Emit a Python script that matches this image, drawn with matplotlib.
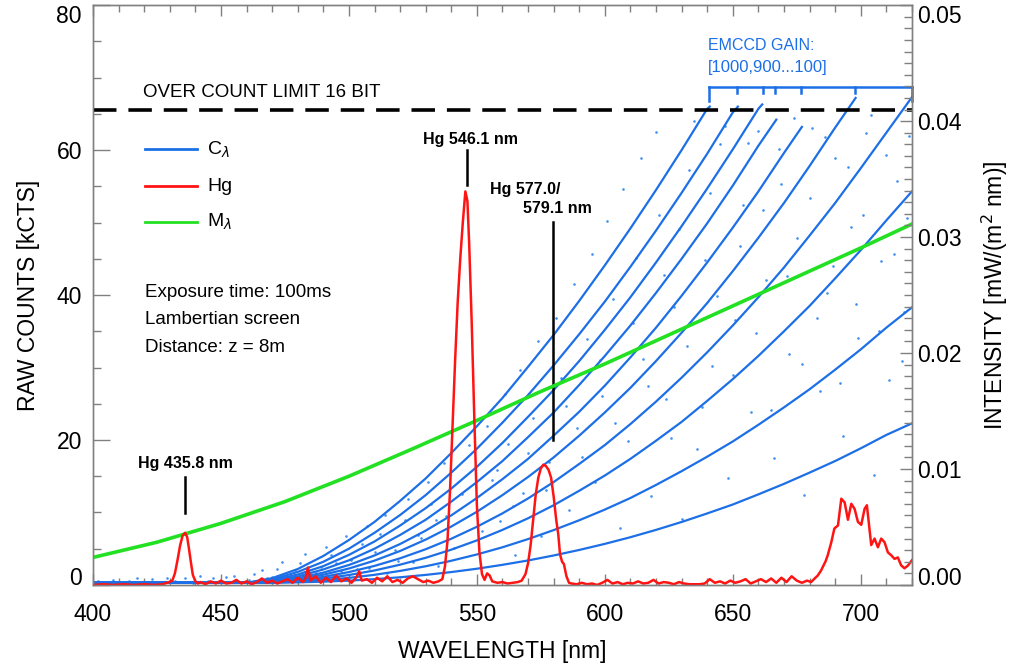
import matplotlib
matplotlib.use('Agg')
import matplotlib.pyplot as plt
from matplotlib.ticker import MultipleLocator, FormatStrFormatter

plt.rcParams['font.family'] = ['Liberation Sans', 'DejaVu Sans']
plt.rcParams['mathtext.fontset'] = 'dejavusans'

# ---------------- data ----------------
# EMCCD calibration curves C_lambda (raw counts, kCTS), gains 1000 ... 100
blue_wl = [400, 420, 440, 460, 470, 480, 490, 500, 510, 520, 530, 540, 550, 560, 570,
           580, 590, 600, 610, 620, 630, 640, 650, 660, 670, 680, 690, 700, 710, 720]
gains = [1000, 900, 800, 700, 600, 500, 400, 300, 200, 100]
c_1000 = [0.3, 0.3, 0.3, 0.3, 0.94, 2.2, 4.0, 6.2, 8.7, 11.6, 14.7, 18.2, 21.9, 25.8,
          30.1, 34.5, 39.2, 44.1, 49.2, 54.5, 60.0, 65.7]
c_900 = [0.3, 0.3, 0.3, 0.3, 0.76, 1.8, 3.2, 5.0, 7.2, 9.65, 12.4, 15.5, 18.8, 22.4,
         26.2, 30.3, 34.6, 39.1, 43.9, 48.9, 54.1, 59.5, 65.2]
c_800 = [0.3, 0.3, 0.3, 0.3, 0.64, 1.44, 2.6, 4.15, 6.0, 8.2, 10.6, 13.3, 16.3, 19.6,
         23.2, 26.9, 30.9, 35.2, 39.7, 44.5, 49.5, 54.7, 60.1, 65.7]
c_700 = [0.3, 0.3, 0.3, 0.3, 0.54, 1.17, 2.14, 3.4, 5.0, 6.9, 9.0, 11.5, 14.2, 17.1,
         20.4, 23.8, 27.6, 31.6, 35.8, 40.3, 45.0, 49.9, 55.1, 60.6]
c_600 = [0.3, 0.3, 0.3, 0.3, 0.47, 0.95, 1.7, 2.76, 4.07, 5.65, 7.5, 9.6, 12.0, 14.6,
         17.4, 20.6, 23.9, 27.5, 31.4, 35.5, 39.9, 44.5, 49.3, 54.3, 59.6]
c_500 = [0.3, 0.3, 0.3, 0.3, 0.43, 0.8, 1.41, 2.27, 3.36, 4.69, 6.26, 8.06, 10.1, 12.4,
         14.9, 17.6, 20.6, 23.8, 27.2, 30.9, 34.8, 38.9, 43.3, 47.9, 52.7, 57.8, 63.1]
c_400 = [0.3, 0.3, 0.3, 0.3, 0.39, 0.66, 1.12, 1.78, 2.63, 3.68, 4.93, 6.38, 8.03, 9.88,
         11.94, 14.2, 16.7, 19.3, 22.2, 25.3, 28.6, 32.1, 35.8, 39.7, 43.8, 48.2, 52.7,
         57.5, 62.4]
c_300 = [0.3, 0.3, 0.3, 0.3, 0.36, 0.55, 0.88, 1.37, 2.0, 2.8, 3.75, 4.87, 6.15, 7.6,
         9.2, 11.0, 13.0, 15.1, 17.4, 19.9, 22.5, 25.4, 28.4, 31.6, 35.0, 38.5, 42.3,
         46.2, 50.3]
c_200 = [0.3, 0.3, 0.3, 0.3, 0.33, 0.45, 0.67, 0.98, 1.4, 1.94, 2.58, 3.34, 4.21, 5.2,
         6.33, 7.57, 8.93, 10.4, 12.0, 13.8, 15.7, 17.7, 19.8, 22.1, 24.5, 27.0, 29.7,
         32.5, 35.5]
c_100 = [0.3, 0.3, 0.3, 0.3, 0.31, 0.36, 0.46, 0.6, 0.8, 1.06, 1.39, 1.78, 2.24, 2.78,
         3.38, 4.07, 4.83, 5.67, 6.59, 7.6, 8.69, 9.87, 11.1, 12.5, 13.95, 15.5, 17.1,
         18.85, 20.7]
c_end_wl = [641, 652, 661.5, 667, 677, 698, 720, 720, 720, 720]
c_end_val = [66.0, 66.0, 66.3, 64.2, 63.2, 67.2, 67.3, 54.3, 38.3, 22.3]

# scattered measurement points (kCTS)
dots_wl = [402, 405, 408, 411, 414, 417, 420, 423, 426, 429, 432, 436, 439, 442,
           445, 452, 458, 463, 468, 472, 477, 481, 486, 489, 493, 497, 501, 505,
           508, 512, 515, 518, 522, 525, 528, 532, 535, 538, 541, 556, 559, 562,
           565, 568, 572, 575, 578, 583, 586, 589, 593, 596, 599, 603, 606, 609,
           612, 615, 618, 621, 624, 627, 630, 633, 636, 639, 642, 645, 648, 651,
           654, 657, 660, 663, 666, 669, 672, 675, 678, 681, 684, 687, 690, 693,
           696, 699, 702, 705, 708, 711, 714, 717, 719,
           447, 450, 455, 461, 466, 470, 474, 479, 483, 487, 491, 495, 499, 503,
           507, 510, 514, 519, 523, 527, 531, 534, 537, 544, 547, 552, 554, 558,
           561, 564, 567, 570, 574, 577, 581, 585, 588, 591, 595, 598, 601, 604,
           607, 611, 614, 617, 620, 623, 626, 629, 632, 635, 638, 641, 644, 647,
           650, 653, 656, 659, 662, 665, 668, 671, 674, 677, 680, 683, 686, 689,
           692, 695, 698, 701, 704, 707, 710, 713, 716, 718]
dots_val = [0.5, 0.2, 0.7, 0.3, 0.6, 0.9, 0.4, 0.8, 0.3, 1.0, 0.5, 0.9, 0.3, 1.2,
            0.6, 1.1, 0.4, 1.5, 0.9, 2.2, 1.3, 3.0, 0.8, 2.5, 4.1, 1.9, 3.5, 5.6,
            2.4, 7.0, 1.6, 4.8, 8.9, 3.2, 6.5, 11.2, 2.6, 9.5, 5.1, 14.5, 8.8, 19.5,
            4.2, 12.7, 23.1, 6.8, 16.9, 28.5, 10.4, 21.7, 33.9, 14.2, 26.1, 39.5, 7.9, 19.8,
            45.1, 31.2, 12.3, 51.0, 25.6, 38.4, 9.1, 57.3, 18.7, 44.9, 30.2, 60.8, 14.8, 36.5,
            52.4, 23.9, 62.7, 42.1, 17.5, 55.3, 31.8, 47.9, 12.4, 63.1, 26.7, 40.3, 58.9, 20.6,
            49.4, 34.1, 62.4, 15.2, 44.7, 28.3, 55.8, 37.6, 61.9,
            0.9, 0.4, 1.3, 0.7, 2.0, 1.1, 3.1, 2.0, 4.3, 1.6, 5.2, 3.0, 6.8, 2.2,
            8.1, 4.6, 9.7, 3.3, 11.9, 6.9, 14.2, 9.0, 16.8, 12.6, 19.3, 7.4, 22.0, 15.8,
            26.4, 10.9, 29.7, 18.2, 33.6, 13.1, 36.8, 24.7, 41.5, 17.6, 45.7, 31.0, 50.2, 22.4,
            54.6, 36.2, 58.9, 27.4, 62.5, 42.8, 20.3, 49.1, 33.0, 64.0, 24.6, 54.1, 39.9, 63.3,
            29.0, 46.8, 61.0, 34.7, 51.7, 24.1, 60.2, 42.6, 64.4, 30.5, 53.4, 36.9, 61.8, 44.0,
            27.8, 57.6, 38.8, 51.1, 64.9, 35.0, 59.3, 45.6, 30.9, 50.7]

# mercury lamp spectrum Hg (kCTS)
red_wl = [400, 404, 408, 412, 416, 420, 424, 427, 429,
          431, 432, 433, 434, 435, 436, 436.8, 437.5, 438.3, 439, 440, 441,
          442, 444, 446, 448, 450, 452, 454, 456, 458, 460, 462, 464, 466, 468, 470,
          472, 474, 476, 478, 480, 482, 483, 484, 485, 487, 489, 491, 493, 495, 497,
          499, 501, 503, 504, 505, 507, 509, 511, 513, 515, 517, 519, 521, 523, 525,
          527, 529, 531, 533, 535,
          536.5, 537.5, 538.5, 539.5, 540.5, 541.5, 542.5, 543.5, 544.5, 545.5, 546.3,
          547, 548, 549, 550, 551, 552, 553, 554, 555, 556,
          558, 560, 562, 564, 566,
          567.5, 569, 570, 571, 572, 573, 574, 575, 576, 577, 578, 579, 580, 581,
          581.8, 582.5, 583.3, 584, 585, 586, 587,
          589, 591, 593, 595, 597, 599, 601, 603, 605, 607, 609, 611, 613, 615, 617,
          619, 621, 623, 625, 627, 629, 631, 633, 635, 637, 639, 641, 643, 645, 647,
          649, 651, 653, 655, 657, 659, 661, 663, 665, 667, 669, 671, 673, 675, 677, 679,
          680.6, 682, 683.2, 684.5, 685.2, 686.3, 687.1, 688.5, 689.7, 691.1, 692.4,
          693.7, 695, 696.3, 697.6, 698.9, 700.2, 701.5, 702.4, 704.1, 705.4, 706.7,
          708, 709.3, 710.6, 711.9, 713.2, 714.5, 715.8, 717.1, 718.5, 720]
red_val = [0.0, 0.1, 0.0, 0.1, 0.0, 0.1, 0.0, 0.1, 0.3,
           0.6, 1.6, 3.4, 5.4, 6.8, 7.2, 6.6, 5.0, 3.0, 1.4, 0.5, 0.2,
           0.4, 0.1, 0.5, 0.2, 0.6, 0.2, 0.3, 0.7, 0.2, 0.5, 0.1, 0.4, 0.9, 0.3, 0.6,
           0.2, 0.5, 0.8, 0.3, 1.0, 0.4, 0.9, 2.4, 0.6, 1.2, 0.3, 1.0, 0.4, 1.3, 0.5,
           0.9, 0.3, 1.1, 1.9, 0.6, 0.8, 0.3, 1.0, 0.5, 1.2, 0.4, 0.7, 0.3, 0.9, 1.2,
           0.8, 0.4, 0.6, 0.3, 0.5,
           0.8, 2.5, 6.0, 13.0, 22.0, 31.0, 39.0, 45.0, 50.0, 54.3, 53.0,
           47.0, 36.0, 23.0, 11.0, 4.5, 1.5, 0.7, 1.6, 1.3, 0.5,
           0.3, 0.4, 0.2, 0.3, 0.4,
           0.6, 1.5, 3.0, 5.5, 9.0, 12.5, 14.8, 16.1, 16.6, 16.4, 15.9, 14.8, 12.2, 9.0,
           7.0, 4.2, 3.2, 2.9, 1.2, 0.3, 0.2,
           0.1, 0.3, 0.1, 0.2, 0.0, 0.3, 0.7, 0.2, 0.4, 0.1, 0.3, 0.2, 0.5, 0.2, 0.3,
           0.7, 0.2, 0.4, 0.3, 0.1, 0.4, 0.2, 0.1, 0.1, 0.1, 0.2, 0.8, 0.3, 0.5, 0.2,
           0.6, 0.3, 0.5, 0.8, 0.2, 0.5, 0.8, 0.4, 0.9, 0.3, 1.0, 0.4, 1.2, 0.6, 0.3, 0.6,
           0.4, 0.9, 1.3, 2.0, 2.5, 3.3, 4.1, 5.9, 7.8, 8.2, 11.9,
           11.4, 9.0, 11.2, 10.5, 8.7, 8.3, 10.5, 11.0, 5.5, 6.4, 5.2,
           6.4, 5.9, 4.5, 4.1, 3.6, 3.8, 2.7, 2.3, 2.7, 3.4]

# M_lambda (kCTS)
green_wl = [400, 425, 450, 475, 500, 525, 550, 575, 600, 625, 650, 675, 700, 720]
green_val = [3.8, 5.9, 8.5, 11.5, 15.0, 18.8, 22.7, 26.7, 30.5, 34.5, 38.5, 42.5, 46.5, 49.8]

count_limit = 65.536
bracket_wl = [640.7, 651.8, 661.9, 666.5, 676.7, 697.8, 720]

left_ticks = [0, 20, 40, 60, 80]
right_ticks = [0.00, 0.01, 0.02, 0.03, 0.04, 0.05]

# ---------------- styles ----------------
BLUE = '#1c6fe6'
DOT_BLUE = '#3f90f2'
RED = '#ff1414'
GREEN = '#22e022'
AX_GRAY = '#808080'

fig = plt.figure(figsize=(10.11, 6.68), dpi=100)
ax = fig.add_axes([0.092, 0.1243, 0.810, 0.868])
ax.set_xlim(400, 720)
ax.set_ylim(0, 80)

ax.scatter(dots_wl, dots_val, s=3.5, color=DOT_BLUE, lw=0, zorder=1)
curves = [c_1000, c_900, c_800, c_700, c_600, c_500, c_400, c_300, c_200, c_100]
for vals, ew, ev in zip(curves, c_end_wl, c_end_val):
    ax.plot(blue_wl[:len(vals)] + [ew], vals + [ev], color=BLUE, lw=1.6, zorder=2)
ax.plot(green_wl, green_val, color=GREEN, lw=2.6, zorder=3)
ax.plot(red_wl, red_val, color=RED, lw=1.8, zorder=4)

ax.axhline(count_limit, color='black', lw=2.6, dashes=(6.5, 3.3), zorder=5)
ax.text(419.5, 68.0, 'OVER COUNT LIMIT 16 BIT', fontsize=13.5, va='center', ha='left')

# legend (drawn by hand, as in the figure)
leg = [(60.1, BLUE, r'C$_{\lambda}$'), (55.0, RED, 'Hg'), (50.1, GREEN, r'M$_{\lambda}$')]
for yv, col, lab in leg:
    ax.plot([420.3, 440.6], [yv, yv], color=col, lw=2.0)
    ax.text(444.5, yv, lab, fontsize=14, va='center', ha='left')

for yv, s in [(40.4, 'Exposure time: 100ms'), (36.6, 'Lambertian screen'),
              (32.7, 'Distance: z = 8m')]:
    ax.text(420.3, yv, s, fontsize=13.5, va='center', ha='left')

# Hg line annotations
HG_FS = 11.5
ax.text(436.0, 16.8, 'Hg 435.8 nm', fontsize=HG_FS, fontweight='bold', ha='center', va='center')
ax.plot([435.8, 435.8], [14.9, 9.9], color='black', lw=1.8)
ax.text(547.7, 61.5, 'Hg 546.1 nm', fontsize=HG_FS, fontweight='bold', ha='center', va='center')
ax.plot([546.1, 546.1], [60.0, 55.2], color='black', lw=1.8)
ax.text(555.1, 54.6, 'Hg 577.0/', fontsize=HG_FS, fontweight='bold', ha='left', va='center')
ax.text(568.0, 51.9, '579.1 nm', fontsize=HG_FS, fontweight='bold', ha='left', va='center')
ax.plot([579.8, 579.8], [50.1, 20.0], color='black', lw=1.8)

# EMCCD gain bracket
ax.text(640.3, 74.5, 'EMCCD GAIN:', fontsize=11.5, color=BLUE, ha='left', va='center')
ax.text(640.3, 71.4, '[1000,900...100]', fontsize=12, color=BLUE, ha='left', va='center')
ax.plot([bracket_wl[0], bracket_wl[-1]], [68.7, 68.7], color=BLUE, lw=1.8, clip_on=False)
for i, w in enumerate(bracket_wl):
    lo = 66.8 if i in (0, len(bracket_wl) - 1) else 67.9
    ax.plot([w, w], [68.7, lo], color=BLUE, lw=1.8, clip_on=False)

# axes styling
ax2 = ax.twinx()
ax2.set_ylim(0, 0.05)
for a in (ax, ax2):
    for sp in a.spines.values():
        sp.set_color(AX_GRAY)
        sp.set_linewidth(1.0)

ax.xaxis.set_major_locator(MultipleLocator(50))
ax.xaxis.set_minor_locator(MultipleLocator(10))
ax.set_yticks(left_ticks)
ax.yaxis.set_minor_locator(MultipleLocator(5))
ax2.set_yticks(right_ticks)
ax2.yaxis.set_minor_locator(MultipleLocator(0.001))
ax2.yaxis.set_major_formatter(FormatStrFormatter('%.2f'))
ax.set_ylim(0, 80)
ax2.set_ylim(0, 0.05)

ax.tick_params(axis='x', which='both', direction='in', top=True, bottom=True,
               colors=AX_GRAY, labelcolor='black', labelsize=16.5, pad=13)
ax.tick_params(axis='x', which='major', length=8, width=1)
ax.tick_params(axis='x', which='minor', length=5, width=1)
ax.tick_params(axis='y', which='both', direction='in', left=True, right=False,
               colors=AX_GRAY, labelcolor='black', labelsize=16.5, pad=8)
ax.tick_params(axis='y', which='major', length=12, width=1)
ax.tick_params(axis='y', which='minor', length=6, width=1)
ax2.tick_params(axis='y', which='both', direction='in', colors=AX_GRAY,
                labelcolor='black', labelsize=16.5, pad=4)
ax2.tick_params(axis='y', which='major', length=9, width=1)
ax2.tick_params(axis='y', which='minor', length=5.5, width=1)

# keep the end labels inside the frame, as in the reference
lt = ax.yaxis.get_major_ticks()
lt[0].label1.set_verticalalignment('baseline')
lt[-1].label1.set_verticalalignment('top')
rt = ax2.yaxis.get_major_ticks()
rt[0].label2.set_verticalalignment('baseline')
rt[-1].label2.set_verticalalignment('top')

ax.set_xlabel('WAVELENGTH [nm]', fontsize=16.5, labelpad=10)
ax.set_ylabel('RAW COUNTS [kCTS]', fontsize=16.5, labelpad=12)
ax2.set_ylabel(r'INTENSITY [mW/(m$^2$ nm)]', fontsize=16.5, labelpad=13)

fig.savefig('out.png', dpi=100)
